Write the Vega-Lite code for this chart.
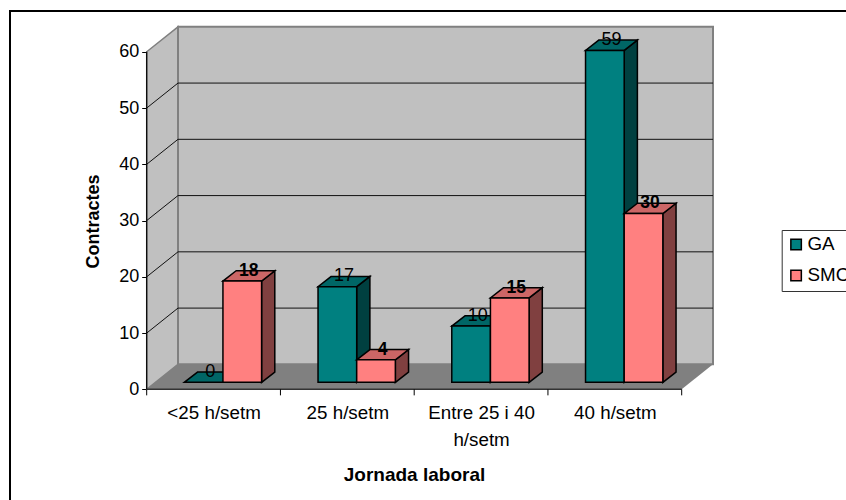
{
"$schema":"https://vega.github.io/schema/vega-lite/v6.json",
"width":836,"height":489,
"padding":{"left":10,"top":11,"right":0,"bottom":0},
"autosize":"none",
"background":"white",
"config":{"view":{"stroke":null},"font":"Liberation Sans"},
"encoding":{
 "x":{"field":"xa","type":"quantitative","scale":{"domain":[-1.02206,5.22841],"nice":false,"zero":false},
  "axis":{"orient":"bottom","offset":-110.7,"grid":false,"domain":false,"ticks":false,"values":[0.5,1.5,2.5,3.5],
   "labelExpr":"datum.value==0.5?'<25 h/setm':datum.value==1.5?'25 h/setm':datum.value==2.5?['Entre 25 i 40','h/setm']:'40 h/setm'",
   "labelFontSize":18.8,"labelColor":"#000","labelLineHeight":27,"labelPadding":14,"labelOverlap":false,"labelFlush":false,"labelBound":false,
   "title":"Jornada laboral","titleFontSize":19,"titleFontWeight":"bold","titleColor":"#000","titleX":404,"titleY":76}},
 "y":{"field":"ya","type":"quantitative","scale":{"domain":[-19.67,67.25],"nice":false,"zero":false},
  "axis":{"orient":"left","offset":-136.7,"grid":false,"domain":false,"values":[0,10,20,30,40,50,60],
   "labelFontSize":18,"labelColor":"#000","labelPadding":3,"tickColor":"#000","tickSize":5,
   "title":"Contractes","titleFontSize":18,"titleFontWeight":"bold","titleColor":"#000","titleX":-44,"titleY":210}}
},
"layer":[
 {"data":{"values":[{"i":0,"xa":-1.02206,"ya":-19.67},{"i":1,"xa":-1.02206,"ya":67.25},{"i":2,"xa":5.22841,"ya":67.25}]},
  "mark":{"type":"line","stroke":"#000","strokeWidth":2,"clip":false},
  "encoding":{"order":{"field":"i"}}},
 {"data":{"values":[{"t":0},{"t":1}]},
  "transform":[{"calculate":"datum.t*0.234","as":"xa"},{"calculate":"datum.t*4.44","as":"ya"},{"calculate":"60+datum.t*4.44","as":"yb"}],
  "mark":{"type":"area","fill":"#C0C0C0","stroke":"#808080","strokeWidth":1.5},
  "encoding":{"y2":{"field":"yb"}}},
 {"data":{"values":[{"xa":0.234,"xb":4.234,"ya":4.44,"yb":64.44}]},
  "mark":{"type":"rect","fill":"#C0C0C0","stroke":"#808080","strokeWidth":2},
  "encoding":{"x2":{"field":"xb"},"y2":{"field":"yb"}}},
 {"data":{"values":[{"t":0},{"t":1}]},
  "transform":[{"calculate":"datum.t*0.234","as":"xa"},{"calculate":"4+datum.t*0.234","as":"xb"},{"calculate":"datum.t*4.44","as":"ya"}],
  "mark":{"type":"area","orient":"horizontal","fill":"#808080"},
  "encoding":{"x2":{"field":"xb"}}},
 {"data":{"values":[{"v":10},{"v":20},{"v":30},{"v":40},{"v":50}]},
  "transform":[{"calculate":"[0,1,2]","as":"p"},{"flatten":["p"]},
   {"calculate":"datum.p==0?0:datum.p==1?0.234:4.234","as":"xa"},{"calculate":"datum.v+(datum.p==0?0:4.44)","as":"ya"}],
  "mark":{"type":"line","stroke":"#111","strokeWidth":1},
  "encoding":{"detail":{"field":"v"}}},
 {"data":{"values":[{"xa":0,"ya":0,"yb":60}]},
  "mark":{"type":"rule","stroke":"#000","strokeWidth":1.2},
  "encoding":{"y2":{"field":"yb"}}},
 {"data":{"values":[{"xa":0,"xb":4,"ya":0}]},
  "mark":{"type":"rule","stroke":"#333","strokeWidth":1.5},
  "encoding":{"x2":{"field":"xb"}}},
 {"data":{"values":[{"xa":0},{"xa":1},{"xa":2},{"xa":3},{"xa":4}]},
  "transform":[{"calculate":"0","as":"ya"},{"calculate":"-1.07","as":"yb"}],
  "mark":{"type":"rule","stroke":"#000","strokeWidth":1},
  "encoding":{"y2":{"field":"yb"}}},
 {"data":{"values":[
   {"cat":"<25 h/setm","series":"GA","value":0},{"cat":"25 h/setm","series":"GA","value":17},{"cat":"Entre 25 i 40 h/setm","series":"GA","value":10},{"cat":"40 h/setm","series":"GA","value":59},
   {"cat":"<25 h/setm","series":"SMC","value":18},{"cat":"25 h/setm","series":"SMC","value":4},{"cat":"Entre 25 i 40 h/setm","series":"SMC","value":15},{"cat":"40 h/setm","series":"SMC","value":30}]},
  "transform":[
   {"calculate":"indexof(['<25 h/setm','25 h/setm','Entre 25 i 40 h/setm','40 h/setm'],datum.cat)","as":"pos"},
   {"calculate":"datum.pos+0.281+(datum.series=='SMC'?0.289:0)","as":"x0"},
   {"calculate":"datum.x0+0.289","as":"x1"},
   {"calculate":"datum.value+1.244","as":"top"},
   {"calculate":"[0,1]","as":"t"},{"flatten":["t"]}
  ],
  "layer":[
   {"transform":[{"filter":"datum.series=='GA'"},{"calculate":"datum.x1+datum.t*0.0987","as":"xa"},{"calculate":"datum.top+datum.t*1.83","as":"ya"},{"calculate":"1.244+datum.t*1.83","as":"yb"}],
    "mark":{"type":"area","fill":"#004040","stroke":"#000","strokeWidth":1.5},
    "encoding":{"y2":{"field":"yb"},"detail":{"field":"cat"}}},
   {"transform":[{"filter":"datum.series=='GA'"},{"calculate":"datum.x0+datum.t*0.0987","as":"xa"},{"calculate":"datum.x1+datum.t*0.0987","as":"xb"},{"calculate":"datum.top+datum.t*1.83","as":"ya"}],
    "mark":{"type":"area","orient":"horizontal","fill":"#006666","stroke":"#000","strokeWidth":1.5},
    "encoding":{"x2":{"field":"xb"},"detail":{"field":"cat"}}},
   {"transform":[{"filter":"datum.series=='GA' && datum.t==0 && datum.value>0"},{"calculate":"datum.x0","as":"xa"},{"calculate":"datum.x1","as":"xb"},{"calculate":"datum.top","as":"ya"},{"calculate":"1.244","as":"yb"}],
    "mark":{"type":"rect","stroke":"#000","strokeWidth":1.5},
    "encoding":{"x2":{"field":"xb"},"y2":{"field":"yb"},
     "color":{"field":"series","type":"nominal","scale":{"domain":["GA","SMC"],"range":["#008080","#FF8080"]},
      "legend":{"orient":"none","legendX":771.7,"legendY":219,"title":null,"strokeColor":"#333","fillColor":"#fff","padding":5,"rowPadding":11,"labelFontSize":18.8,"labelColor":"#000","symbolType":"square","symbolSize":110,"symbolStrokeColor":"#000","symbolStrokeWidth":1.5,"labelOffset":2}}}},
   {"transform":[{"filter":"datum.series=='SMC'"},{"calculate":"datum.x1+datum.t*0.0987","as":"xa"},{"calculate":"datum.top+datum.t*1.83","as":"ya"},{"calculate":"1.244+datum.t*1.83","as":"yb"}],
    "mark":{"type":"area","fill":"#804040","stroke":"#000","strokeWidth":1.5},
    "encoding":{"y2":{"field":"yb"},"detail":{"field":"cat"}}},
   {"transform":[{"filter":"datum.series=='SMC'"},{"calculate":"datum.x0+datum.t*0.0987","as":"xa"},{"calculate":"datum.x1+datum.t*0.0987","as":"xb"},{"calculate":"datum.top+datum.t*1.83","as":"ya"}],
    "mark":{"type":"area","orient":"horizontal","fill":"#CC6666","stroke":"#000","strokeWidth":1.5},
    "encoding":{"x2":{"field":"xb"},"detail":{"field":"cat"}}},
   {"transform":[{"filter":"datum.series=='SMC' && datum.t==0"},{"calculate":"datum.x0","as":"xa"},{"calculate":"datum.x1","as":"xb"},{"calculate":"datum.top","as":"ya"},{"calculate":"1.244","as":"yb"}],
    "mark":{"type":"rect","stroke":"#000","strokeWidth":1.5},
    "encoding":{"x2":{"field":"xb"},"y2":{"field":"yb"},
     "color":{"field":"series","type":"nominal"}}},
   {"transform":[{"filter":"datum.series=='GA' && datum.t==1"},{"calculate":"(datum.x0+datum.x1)/2+0.0493","as":"xa"},{"calculate":"datum.top+1.83","as":"ya"}],
    "mark":{"type":"text","fontSize":18,"baseline":"middle","align":"center","fill":"#000"},
    "encoding":{"text":{"field":"value","type":"quantitative"}}},
   {"transform":[{"filter":"datum.series=='SMC' && datum.t==1"},{"calculate":"(datum.x0+datum.x1)/2+0.0493","as":"xa"},{"calculate":"datum.top+1.83","as":"ya"}],
    "mark":{"type":"text","fontSize":17.5,"fontWeight":"bold","baseline":"middle","align":"center","fill":"#000"},
    "encoding":{"text":{"field":"value","type":"quantitative"}}}
  ]}
]}
